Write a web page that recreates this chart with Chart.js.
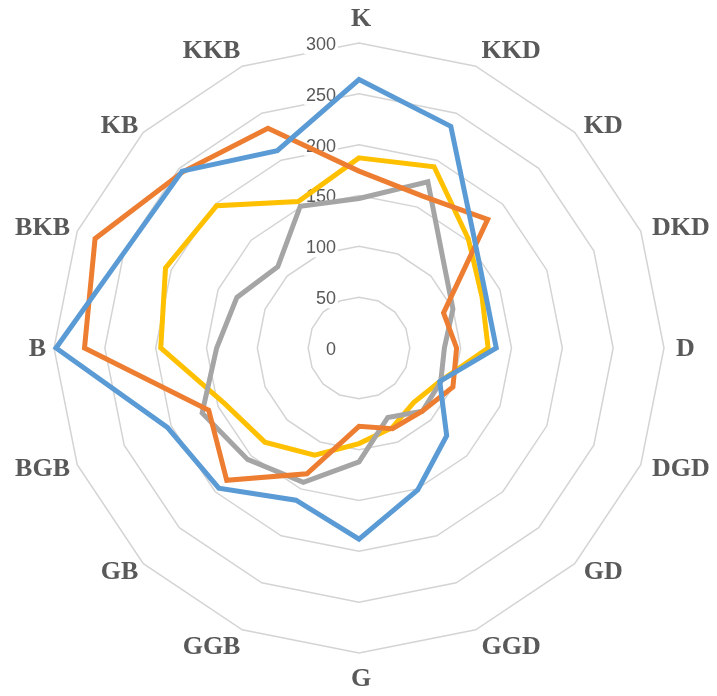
<!DOCTYPE html>
<html>
<head>
<meta charset="utf-8">
<script src="https://cdn.jsdelivr.net/npm/chart.js@4/dist/chart.umd.min.js"></script>
<style>
  html, body { margin: 0; padding: 0; background: #ffffff; }
  #wrap { width: 717px; height: 696px; }
</style>
</head>
<body>
<div id="wrap"><canvas id="c" width="717" height="696"></canvas></div>
<script>
// ---- data ----
const categories = ['K','KKD','KD','DKD','D','DGD','GD','GGD','G','GGB','GB','BGB','B','BKB','KB','KKB'];
const seriesBlue   = [264, 236, 159, 135, 135, 86, 122, 151, 188, 162, 195, 204, 298, 249, 246, 210];
const seriesOrange = [174, 162, 179,  90,  96, 100,  88,  86,  77, 134, 184, 160, 270, 281, 245, 234];
const seriesGray   = [147, 177, 118, 100,  84,  87,  88,  74, 112, 143, 155, 167, 140, 130, 113, 151];
const seriesYellow = [187, 193, 152, 131, 127,  86,  76,  85,  94, 114, 131, 143, 195, 206, 198, 156];
const tickValues = [0, 50, 100, 150, 200, 250, 300];

// tick labels drawn left of the vertical axis, using the scale's own mapping
const tickLabelPlugin = {
  id: 'tickLabels',
  beforeDatasetsDraw(chart) {
    const s = chart.scales.r;
    const ctx = chart.ctx;
    ctx.save();
    ctx.font = '18px "Liberation Sans", Arial, sans-serif';
    ctx.textAlign = 'right';
    ctx.textBaseline = 'middle';
    tickValues.forEach(v => {
      const y = s.yCenter - s.getDistanceFromCenterForValue(v) + 2;
      const x = s.xCenter - 23;
      const t = String(v);
      const w = ctx.measureText(t).width;
      ctx.fillStyle = '#ffffff';
      ctx.fillRect(x - w - 2, y - 9, w + 4, 18);
      ctx.fillStyle = '#595959';
      ctx.fillText(t, x, y);
    });
    ctx.restore();
  }
};

// category labels placed around the outer ring
const pointLabelPlugin = {
  id: 'pointLabelsCustom',
  afterDraw(chart) {
    const s = chart.scales.r;
    const ctx = chart.ctx;
    ctx.save();
    ctx.font = 'bold 26px "Liberation Serif", "Times New Roman", serif';
    ctx.fillStyle = '#595959';
    ctx.textAlign = 'center';
    ctx.textBaseline = 'middle';
    const A = s.drawingArea + 10;
    categories.forEach((lab, i) => {
      const p = s.getPointPosition(i, A);
      const dx = p.x - s.xCenter, dy = p.y - s.yCenter;
      const w = ctx.measureText(lab).width;
      const sx = Math.abs(dx) < 1 ? 0 : Math.sign(dx);
      const uy = dy / A;
      const cx = p.x + sx * w / 2 + 2;
      const cy = p.y + Math.sign(uy) * 15 * Math.pow(Math.abs(uy), 10);
      ctx.fillText(lab, cx, cy + 1);
    });
    ctx.restore();
  }
};

function ds(data, color) {
  return {
    data: data,
    borderColor: color,
    backgroundColor: color,
    borderWidth: 5,
    fill: false,
    tension: 0,
    pointRadius: 0,
    pointHoverRadius: 0,
    borderJoinStyle: 'miter'
  };
}

new Chart(document.getElementById('c'), {
  type: 'radar',
  data: {
    labels: categories,
    datasets: [
      ds(seriesBlue, '#5B9BD5'),
      ds(seriesOrange, '#ED7D31'),
      ds(seriesGray, '#A5A5A5'),
      ds(seriesYellow, '#FFC000')
    ]
  },
  options: {
    responsive: false,
    animation: false,
    events: [],
    layout: { padding: { left: 54, right: 53, top: 43, bottom: 43 } },
    plugins: { legend: { display: false }, tooltip: { enabled: false } },
    scales: {
      r: {
        min: 0,
        max: 300,
        ticks: { stepSize: 50, display: false },
        angleLines: { display: false },
        grid: { color: '#D4D4D4', lineWidth: 1.5 },
        pointLabels: { display: false }
      }
    }
  },
  plugins: [tickLabelPlugin, pointLabelPlugin]
});
</script>
</body>
</html>
